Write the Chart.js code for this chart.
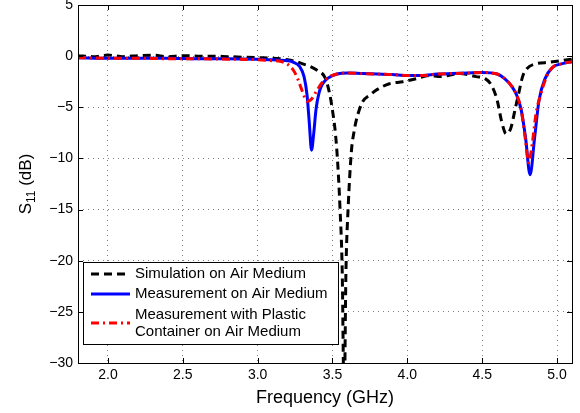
<!DOCTYPE html>
<html>
<head>
<meta charset="utf-8">
<script src="https://cdn.jsdelivr.net/npm/chart.js@4.4.0/dist/chart.umd.min.js"></script>
<style>
  html, body { margin: 0; padding: 0; background: #fff; }
  #wrap { width: 580px; height: 413px; }
</style>
</head>
<body>
<div id="wrap"><canvas id="s11Chart" width="580" height="413"></canvas></div>
<script>
// ===== data =====
const xTicks = [2, 2.5, 3, 3.5, 4, 4.5, 5];
const yTicks = [-30, -25, -20, -15, -10, -5, 0, 5];

const freqSim = [1.8, 1.9, 2.0, 2.1, 2.2, 2.3, 2.4, 2.5, 2.6, 2.7, 2.8, 2.9, 3.0, 3.1, 3.2, 3.25, 3.3, 3.35, 3.4, 3.45, 3.48, 3.5, 3.52, 3.535, 3.55, 3.565, 3.578, 3.59, 3.605, 3.627, 3.645, 3.66, 3.7, 3.75, 3.8, 3.88, 3.97, 4.06, 4.15, 4.22, 4.35, 4.46, 4.52, 4.56, 4.6, 4.63, 4.66, 4.69, 4.72, 4.74, 4.77, 4.8, 4.86, 4.95, 5.0, 5.1];
const s11Sim = [0.05, -0.05, 0.1, -0.05, 0.05, 0.1, -0.05, 0.05, 0, 0, -0.05, -0.1, -0.15, -0.2, -0.35, -0.5, -0.75, -1.0, -1.4, -2.1, -3.6, -5.3, -7.6, -10.5, -14.8, -21, -34, -21, -14.7, -9.2, -7.3, -6.2, -4.5, -3.8, -3.25, -2.7, -2.5, -2.2, -1.9, -2.0, -1.7, -2.0, -2.2, -2.8, -4.3, -6.4, -7.6, -7.1, -5.2, -3.9, -2.0, -1.2, -0.75, -0.6, -0.5, -0.3];

const freqAir = [1.8, 2.0, 2.2, 2.4, 2.6, 2.8, 3.0, 3.1, 3.2, 3.24, 3.28, 3.31, 3.33, 3.345, 3.36, 3.375, 3.39, 3.41, 3.43, 3.47, 3.53, 3.6, 3.7, 3.8, 3.9, 4.0, 4.1, 4.2, 4.3, 4.4, 4.5, 4.6, 4.65, 4.7, 4.73, 4.76, 4.79, 4.82, 4.85, 4.88, 4.92, 4.97, 5.03, 5.1];
const s11Air = [-0.15, -0.2, -0.2, -0.2, -0.25, -0.25, -0.3, -0.35, -0.45, -0.6, -1.0, -2.0, -3.8, -6.5, -9.2, -7.5, -5.2, -3.6, -2.8, -2.15, -1.75, -1.65, -1.7, -1.75, -1.8, -1.9, -1.9, -1.75, -1.7, -1.65, -1.6, -1.75, -2.2, -3.0, -3.8, -5.2, -8.0, -11.6, -8.0, -4.3, -2.2, -1.1, -0.75, -0.55];

const freqPlastic = [1.8, 2.0, 2.2, 2.4, 2.6, 2.8, 3.0, 3.1, 3.15, 3.2, 3.24, 3.27, 3.3, 3.33, 3.36, 3.39, 3.43, 3.47, 3.53, 3.6, 3.7, 3.8, 3.9, 4.0, 4.1, 4.2, 4.3, 4.4, 4.5, 4.6, 4.65, 4.7, 4.73, 4.76, 4.79, 4.81, 4.835, 4.86, 4.89, 4.93, 4.97, 5.03, 5.1];
const s11Plastic = [-0.15, -0.2, -0.2, -0.25, -0.25, -0.3, -0.35, -0.45, -0.5, -0.8, -1.4, -2.3, -3.5, -4.4, -4.2, -3.5, -2.6, -2.1, -1.75, -1.65, -1.7, -1.75, -1.8, -1.9, -1.9, -1.75, -1.7, -1.65, -1.6, -1.75, -2.2, -3.0, -3.8, -5.2, -8.3, -10.4, -8.5, -5.6, -3.8, -2.0, -1.1, -0.75, -0.55];

const legendLabels = [
  ['Simulation on Air Medium'],
  ['Measurement on Air Medium'],
  ['Measurement with Plastic', 'Container on Air Medium']
];

const pts = (xs, ys) => xs.map((x, i) => ({ x: x, y: ys[i] }));
const fontFam = '"Liberation Sans", Arial, Helvetica, sans-serif';
const minus = v => String(v).replace('-', '\u2212');

// ===== plugin: frame, inner ticks, y title with subscript, legend =====
const matlabLook = {
  id: 'matlabLook',
  afterDatasetsDraw(chart) {
    const ctx = chart.ctx;
    const a = chart.chartArea;
    const xs = chart.scales.x, ys = chart.scales.y;
    ctx.save();
    ctx.strokeStyle = '#000';
    ctx.lineWidth = 1;
    ctx.setLineDash([]);
    ctx.beginPath();
    xTicks.forEach(v => {
      const px = Math.round(xs.getPixelForValue(v)) + 0.5;
      ctx.moveTo(px, a.bottom); ctx.lineTo(px, a.bottom - 5);
      ctx.moveTo(px, a.top); ctx.lineTo(px, a.top + 5);
    });
    yTicks.forEach(v => {
      const py = Math.round(ys.getPixelForValue(v)) + 0.5;
      ctx.moveTo(a.left, py); ctx.lineTo(a.left + 5, py);
      ctx.moveTo(a.right, py); ctx.lineTo(a.right - 5, py);
    });
    ctx.stroke();
    ctx.strokeRect(Math.round(a.left) + 0.5, Math.round(a.top) + 0.5, Math.round(a.right - a.left), Math.round(a.bottom - a.top));

    // legend
    const lx = 83.5, ly = 262.5, lw = 255, lh = 82;
    ctx.fillStyle = '#fff';
    ctx.fillRect(lx, ly, lw, lh);
    ctx.strokeRect(lx, ly, lw, lh);
    const styles = [
      { color: '#000', dash: [8, 5] },
      { color: '#0000ff', dash: [] },
      { color: '#ff0000', dash: [8, 4, 2, 4] }
    ];
    const rows = [274, 294, 323];
    ctx.font = '15px ' + fontFam;
    ctx.textBaseline = 'middle';
    legendLabels.forEach((lines, i) => {
      const y = rows[i];
      ctx.strokeStyle = styles[i].color;
      ctx.lineWidth = 3;
      ctx.setLineDash(styles[i].dash);
      ctx.beginPath();
      ctx.moveTo(91, y); ctx.lineTo(130, y);
      ctx.stroke();
      ctx.fillStyle = '#000';
      if (lines.length === 1) {
        ctx.fillText(lines[0], 135, y);
      } else {
        ctx.fillText(lines[0], 135, y - 8.5);
        ctx.fillText(lines[1], 135, y + 8.5);
      }
    });
    ctx.setLineDash([]);

    // y axis title S11 (dB)
    ctx.translate(25, (a.top + a.bottom) / 2);
    ctx.rotate(-Math.PI / 2);
    ctx.fillStyle = '#000';
    ctx.textBaseline = 'alphabetic';
    ctx.font = '17px ' + fontFam;
    const wS = ctx.measureText('S').width;
    ctx.font = '12px ' + fontFam;
    const wSub = ctx.measureText('11').width;
    ctx.font = '17px ' + fontFam;
    const wRest = ctx.measureText(' (dB)').width;
    let x0 = -(wS + wSub + wRest) / 2;
    ctx.fillText('S', x0, 6);
    ctx.font = '12px ' + fontFam;
    ctx.fillText('11', x0 + wS, 10);
    ctx.font = '17px ' + fontFam;
    ctx.fillText(' (dB)', x0 + wS + wSub, 6);
    ctx.restore();
  }
};

// ===== Line Chart: S11 vs frequency =====
const ctx = document.getElementById('s11Chart').getContext('2d');
new Chart(ctx, {
  type: 'line',
  data: {
    datasets: [{
      label: 'Simulation on Air Medium',
      data: pts(freqSim, s11Sim),
      borderColor: '#000000',
      borderWidth: 3,
      borderDash: [8, 5],
      cubicInterpolationMode: 'monotone',
      pointRadius: 0,
      order: 3
    }, {
      label: 'Measurement on Air Medium',
      data: pts(freqAir, s11Air),
      borderColor: '#0000ff',
      borderWidth: 3,
      cubicInterpolationMode: 'monotone',
      pointRadius: 0,
      order: 2
    }, {
      label: 'Measurement with Plastic Container on Air Medium',
      data: pts(freqPlastic, s11Plastic),
      borderColor: '#ff0000',
      borderWidth: 3,
      borderDash: [8, 4, 2, 4],
      cubicInterpolationMode: 'monotone',
      pointRadius: 0,
      order: 1
    }]
  },
  options: {
    responsive: false,
    animation: false,
    layout: { padding: { top: 5, right: 8, left: 0, bottom: 0 } },
    plugins: {
      legend: { display: false },
      tooltip: { enabled: false }
    },
    scales: {
      x: {
        type: 'linear',
        min: 1.8,
        max: 5.1,
        afterBuildTicks: s => { s.ticks = xTicks.map(v => ({ value: v })); },
        afterFit: s => { s.height = 50; s.paddingLeft = 0; s.paddingRight = 0; },
        ticks: { color: '#000', font: { size: 14, family: fontFam }, padding: 4, maxRotation: 0 },
        grid: { color: 'rgba(0,0,0,0.5)', drawTicks: false },
        border: { display: false, dash: [1, 4] },
        title: { display: true, text: 'Frequency (GHz)', color: '#000', font: { size: 18, family: fontFam }, padding: { top: 0 } }
      },
      y: {
        min: -30,
        max: 5,
        afterBuildTicks: s => { s.ticks = yTicks.map(v => ({ value: v })); },
        afterFit: s => { s.width = 78; s.paddingTop = 0; s.paddingBottom = 0; },
        ticks: { color: '#000', font: { size: 14, family: fontFam }, padding: 5, callback: v => minus(v) },
        grid: { color: 'rgba(0,0,0,0.5)', drawTicks: false },
        border: { display: false, dash: [1, 4] }
      }
    }
  },
  plugins: [matlabLook]
});
</script>
</body>
</html>
